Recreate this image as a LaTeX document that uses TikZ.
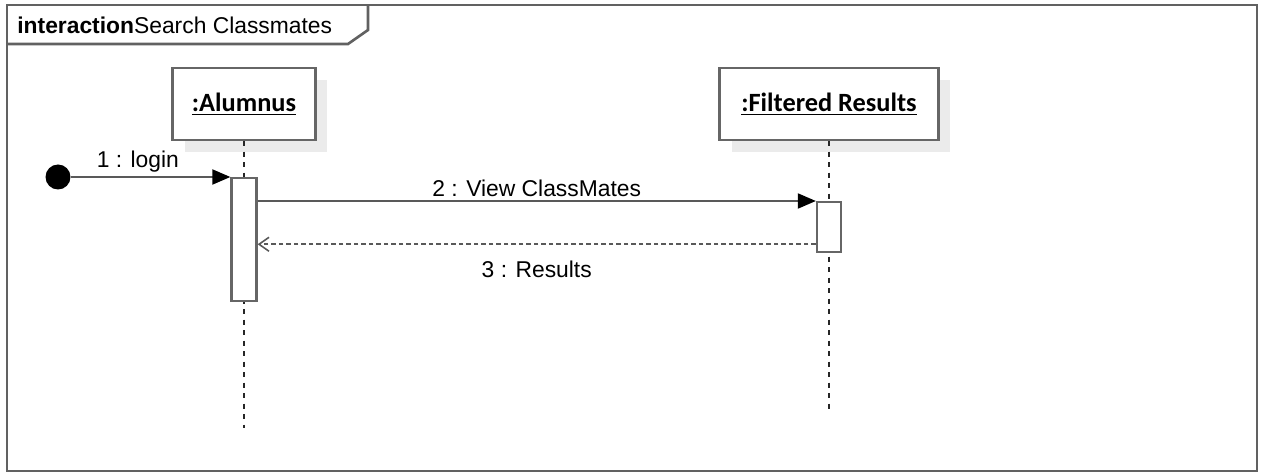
\documentclass[tikz,border=0pt]{standalone}
\usepackage{fontspec}
\setmainfont{Liberation Sans}
\newfontfamily\calibri{Carlito}
\usetikzlibrary{positioning,arrows.meta,shadows}

\begin{document}
\begin{tikzpicture}[x=0.02cm,y=-0.02cm,
    font=\fontsize{13}{15}\selectfont,
    frameline/.style={draw=black!62,line width=1.5pt},
    object/.style={draw=black!60,line width=1.3pt,fill=white,minimum height=1.44cm,
        font=\calibri\bfseries\fontsize{15}{18}\selectfont,
        drop shadow={shadow xshift=0.24cm,shadow yshift=-0.24cm,fill=black!8,opacity=1}},
    lifeline/.style={draw=black!85,line width=0.6pt,dash pattern=on 0.1cm off 0.11cm},
    activation/.style={draw=black!60,line width=1.3pt,fill=white,minimum width=0.5cm,
        inner sep=0pt,anchor=north},
    call/.style={draw=black!65,line width=1.1pt,-{Triangle[length=0.36cm,width=0.3cm,color=black]}},
    reply/.style={draw=black!65,line width=0.9pt,dash pattern=on 0.09cm off 0.06cm,
        -{Straight Barb[length=0.2cm,width=0.28cm]}}]
    \useasboundingbox (0,0) rectangle (1264,472);

    % frame and its tab
    \draw[frameline] (7,5) rectangle (1257,471);
    \draw[frameline] (7,44) -- (348,44) -- (368,30) -- (368,5);
    \node[anchor=west,inner sep=0pt] (title) at (17,25) {\textbf{interaction}Search Classmates};

    % lifelines
    \node[object,minimum width=2.86cm] (alumnus) at (244,104) {\underline{:Alumnus}};
    \node[object,minimum width=4.38cm] (results) at (829,104) {\underline{:Filtered Results}};
    \coordinate (endA) at (244,428);
    \coordinate (endR) at (829,414);
    \draw[lifeline] (alumnus) -- (endA);
    \draw[lifeline] (results) -- (endR);

    % activations
    \node[activation,minimum height=2.46cm] (act1) at (244,177) {};
    \node[activation,minimum height=1cm,minimum width=0.48cm] (act2) at (829,201) {};

    % messages
    \node[circle,fill=black,minimum size=0.5cm,inner sep=0pt] (start) at (58,177) {};
    \draw[call] (start) -- (act1.north west) node[pos=0.42,above,inner sep=2pt] {1 : login};
    \draw[call] (act1.east |- act2.north west) -- (act2.north west)
        node[midway,above,inner sep=2pt] {2 : View ClassMates};
    \coordinate (ret) at ([yshift=0.18cm]act2.south west);
    \draw[reply] (ret) -- (act1.east |- ret)
        node[midway,below=0.2cm] {3 : Results};
\end{tikzpicture}
\end{document}
